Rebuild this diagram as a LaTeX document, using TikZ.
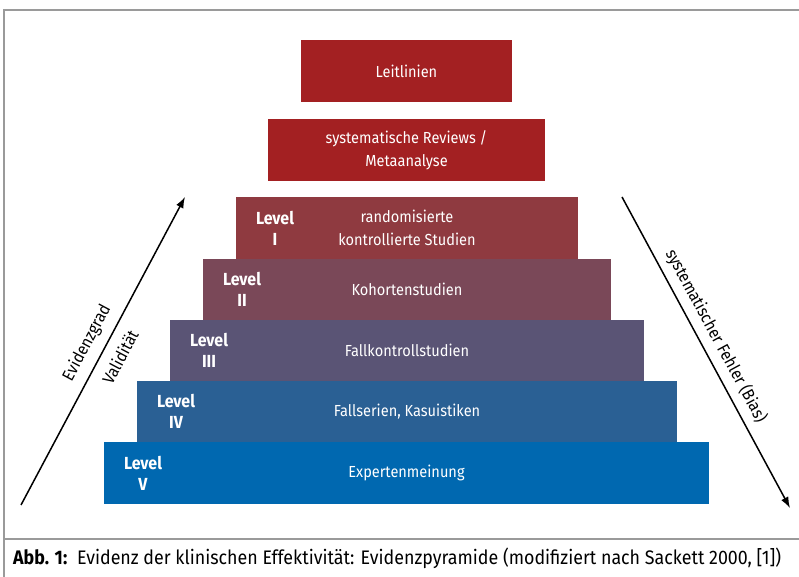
\documentclass[tikz,border=0pt]{standalone}
\usepackage{fontspec}
\setmainfont[FakeStretch=0.91]{Fira Sans}
\usetikzlibrary{arrows.meta}
\definecolor{cTop}{HTML}{A32022}
\definecolor{cI}{HTML}{8F3A40}
\definecolor{cII}{HTML}{7A4858}
\definecolor{cIII}{HTML}{5A5475}
\definecolor{cIV}{HTML}{2A6094}
\definecolor{cV}{HTML}{0068B0}
\definecolor{frameg}{HTML}{9A9A9A}
\tikzset{
  pbox/.style={rectangle, inner sep=0pt, outer sep=0pt, text=white, align=center,
    font=\fontsize{16}{23}\selectfont},
  lvl/.style={text=white, align=center, inner sep=0pt, font=\bfseries\fontsize{17.5}{21}\selectfont},
  axarrow/.style={line width=1.5pt, -{Latex[length=11pt,width=8pt]}},
  axlabel/.style={inner sep=0pt, font=\fontsize{16.8}{19}\selectfont},
  framel/.style={frameg, line width=1.5pt}
}
\begin{document}
\begin{tikzpicture}[x=1pt,y=1pt]
\useasboundingbox (0,0) rectangle (799,577);
% frame
\coordinate (ftl) at (4,567);
\coordinate (ftr) at (799,567);
\coordinate (fbl) at (4,0);
\coordinate (fsl) at (4,38);
\coordinate (fsr) at (799,38);
\draw[framel] (ftr) -- (ftl) -- (fbl);
\draw[framel] (fsl) -- (fsr);
% boxes
\node[pbox, fill=cTop, minimum width=211pt, minimum height=62pt] (leit) at (406.5,506) {Leitlinien};
\node[pbox, fill=cTop, minimum width=277pt, minimum height=62pt] (rev) at (406.5,427) {systematische Reviews /\\Metaanalyse};
\node[pbox, fill=cI, minimum width=342pt, minimum height=62pt] (l1) at (407,349) {randomisierte\\kontrollierte Studien};
\node[pbox, fill=cII, minimum width=408pt, minimum height=61.5pt] (l2) at (407,287.5) {Kohortenstudien};
\node[pbox, fill=cIII, minimum width=474pt, minimum height=61.5pt] (l3) at (407,226.5) {Fallkontrollstudien};
\node[pbox, fill=cIV, minimum width=540pt, minimum height=61.5pt] (l4) at (407,165.5) {Fallserien, Kasuistiken};
\node[pbox, fill=cV, minimum width=605pt, minimum height=62pt] (l5) at (406.5,104) {Expertenmeinung};
% level labels
\node[lvl] (t1) at (275,349) {Level\\I};
\node[lvl] (t2) at (242,287.5) {Level\\II};
\node[lvl] (t3) at (209,226.5) {Level\\III};
\node[lvl] (t4) at (176,165.5) {Level\\IV};
\node[lvl] (t5) at (143,104) {Level\\V};
% arrows
\coordinate (la1) at (21,72);
\coordinate (la2) at (185,380);
\coordinate (ra1) at (622,380);
\coordinate (ra2) at (790,69);
\draw[axarrow] (la1) -- (la2);
\draw[axarrow] (ra1) -- (ra2);
\node[axlabel, rotate=62] (evid) at (87,234) {Evidenzgrad};
\node[axlabel, rotate=62] (vali) at (120,220) {Validität};
\node[axlabel, rotate=-61.6] (bias) at (716,241) {systematischer Fehler (Bias)};
% caption
\node[anchor=west, inner sep=0pt, font=\fontsize{19.6}{22}\selectfont] (cap) at (13,19) {\textbf{Abb. 1:}\enspace Evidenz der klinischen Effektivität: Evidenzpyramide (modifiziert nach Sackett 2000, [1])};
\end{tikzpicture}
\end{document}
